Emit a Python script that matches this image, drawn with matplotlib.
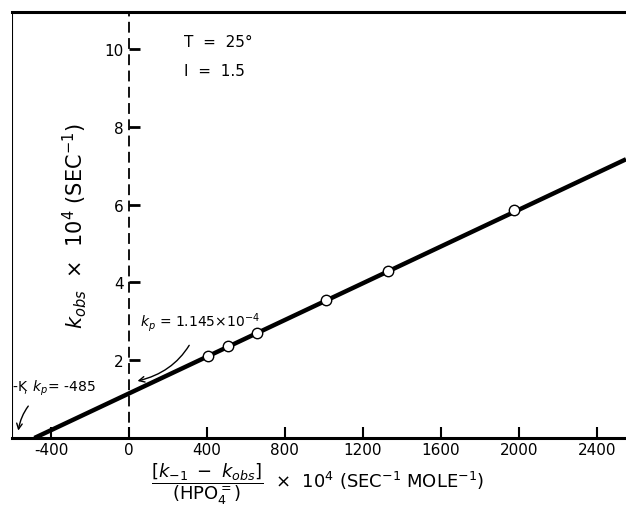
import numpy as np
import matplotlib.pyplot as plt

# measured points (x = [k-1 - kobs]/(HPO4=) x 10^4, y = kobs x 10^4)
x_pts = [405, 507, 656, 1010, 1328, 1974]
y_pts = [2.12, 2.36, 2.70, 3.54, 4.30, 5.85]

# fitted line
kp = 1.145
x_int = -485
line_x = [x_int, 2550]
line_y = [0, kp + kp / -x_int * 2550]

x_ticks = [-400, 0, 400, 800, 1200, 1600, 2000, 2400]
y_ticks = [2, 4, 6, 8, 10]

fig = plt.figure(figsize=(6.26, 5.10), dpi=100)
ax = fig.add_axes([12 / 626, 1 - 439 / 510, 1 - 12 / 626, (439 - 13) / 510])
ax.set_xlim(-600, 2550)
ax.set_ylim(0, 10.95)

ax.plot(line_x, line_y, c="black", linewidth=3.2, solid_capstyle="butt", zorder=2)
ax.plot(x_pts, y_pts, "o", mfc="white", mec="black", ms=7.5, mew=1.0, zorder=3)

# frame: thick top and bottom, thin left, no right
ax.spines["top"].set_linewidth(2.2)
ax.spines["bottom"].set_linewidth(2.2)
ax.spines["right"].set_visible(False)
ax.axvline(-600, color="black", linewidth=1.5)

# y axis drawn as the dashed line at x = 0
ax.spines["left"].set_position(("data", 0))
ax.spines["left"].set_linestyle((0, (5, 4)))
ax.spines["left"].set_linewidth(1.3)

ax.set_xticks(x_ticks)
ax.set_xticklabels([str(v) for v in x_ticks])
ax.set_yticks(y_ticks)
ax.set_yticklabels([str(v) for v in y_ticks])
ax.tick_params(axis="x", direction="in", length=8, width=1.5, labelsize=11, pad=3)
ax.tick_params(axis="y", direction="in", length=8, width=2, labelsize=11, pad=4)

ax.text(283, 10.2, "T  =  25°", fontsize=11, va="center")
ax.text(283, 9.45, "I  =  1.5", fontsize=11, va="center")

ax.annotate(r"$k_p$ = 1.145×10$^{-4}$", xy=(30, 1.45), xytext=(55, 3.0),
            fontsize=10, va="center",
            arrowprops=dict(arrowstyle="->", color="black", lw=1,
                            connectionstyle="arc3,rad=-0.3", shrinkA=8))
ax.annotate(r"-K$_{\!\!,}$ $k_p$= -485", xy=(-570, 0.12), xytext=(-598, 1.3),
            fontsize=10, va="center",
            arrowprops=dict(arrowstyle="->", color="black", lw=1,
                            connectionstyle="arc3,rad=0.3", shrinkA=6))

fig.text(75 / 626, 1 - 226 / 510, r"$k_{obs}$  ×  10$^4$ (SEC$^{-1}$)",
         rotation=90, fontsize=15, ha="center", va="center")
fig.text(318 / 626, 1 - 484 / 510,
         r"$\dfrac{[k_{-1}\ -\ k_{obs}]}{(\mathrm{HPO}_4^{=})}$  ×  10$^4$ (SEC$^{-1}$ MOLE$^{-1}$)",
         fontsize=13, ha="center", va="center")

fig.savefig("out.png", dpi=100)
